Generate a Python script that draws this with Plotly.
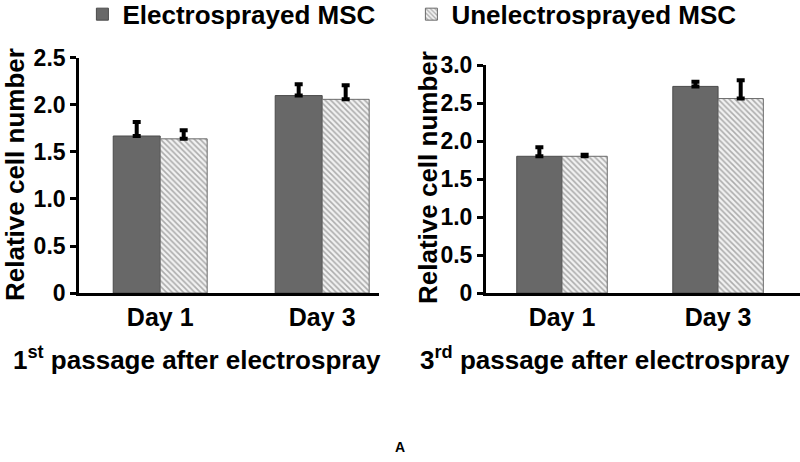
import plotly.graph_objects as go

days = ["Day 1", "Day 3"]
series_names = ["Electrosprayed MSC", "Unelectrosprayed MSC"]

# 1st passage
p1_electro = [1.67, 2.10]
p1_electro_err = [0.15, 0.12]
p1_unelectro = [1.64, 2.06]
p1_unelectro_err = [0.09, 0.15]

# 3rd passage
p3_electro = [1.80, 2.72]
p3_electro_err = [0.12, 0.06]
p3_unelectro = [1.80, 2.56]
p3_unelectro_err = [0.02, 0.24]

left_ticks = [0, 0.5, 1.0, 1.5, 2.0, 2.5]
left_ticktext = ["0", "0.5", "1.0", "1.5", "2.0", "2.5"]
right_ticks = [0, 0.5, 1.0, 1.5, 2.0, 2.5, 3.0]
right_ticktext = ["0", "0.5", "1.0", "1.5", "2.0", "2.5", "3.0"]

FONT = "Liberation Sans"
DARK = "#686868"

xpos = list(range(len(days)))

def err(arr):
    return dict(type="data", symmetric=False, array=arr, arrayminus=[0] * len(arr),
                color="black", thickness=4, width=4)

hatch = dict(color="#f2f2f2", line=dict(color="#6a6a6a", width=1),
             pattern=dict(shape="\\", fgcolor="#666666", bgcolor="#f2f2f2",
                          size=4, solidity=0.4))
solid = dict(color=DARK, line=dict(color="#4a4a4a", width=1))

fig = go.Figure()
fig.add_trace(go.Bar(x=xpos, y=p1_electro, name=series_names[0], xaxis="x", yaxis="y",
                     marker=solid, error_y=err(p1_electro_err), legendgroup="a"))
fig.add_trace(go.Bar(x=xpos, y=p1_unelectro, name=series_names[1], xaxis="x", yaxis="y",
                     marker=hatch, error_y=err(p1_unelectro_err), legendgroup="b"))
fig.add_trace(go.Bar(x=xpos, y=p3_electro, name=series_names[0], xaxis="x2", yaxis="y2",
                     marker=solid, error_y=err(p3_electro_err), showlegend=False, legendgroup="a"))
fig.add_trace(go.Bar(x=xpos, y=p3_unelectro, name=series_names[1], xaxis="x2", yaxis="y2",
                     marker=hatch, error_y=err(p3_unelectro_err), showlegend=False, legendgroup="b"))

tickfont = dict(family=FONT, size=23, color="black", weight="bold")
dayfont = dict(family=FONT, size=25, color="black", weight="bold")
bigfont = dict(family=FONT, size=26, color="black", weight="bold")

fig.update_layout(
    width=800, height=462,
    margin=dict(l=0, r=0, t=0, b=0, autoexpand=False),
    paper_bgcolor="white", plot_bgcolor="white",
    barmode="group", bargap=0.42, bargroupgap=0,
    font=dict(family=FONT, color="black"),
    xaxis=dict(domain=[0.099, 0.474], range=[-0.5, 1.352], anchor="y",
               tickvals=xpos, ticktext=days, tickfont=dayfont, ticks="",
               showline=True, linecolor="black", linewidth=3, showgrid=False,
               zeroline=False, ticklabelstandoff=0),
    yaxis=dict(domain=[0.3658, 0.8745], range=[0, 2.5], anchor="x",
               tickvals=left_ticks, ticktext=left_ticktext, tickfont=tickfont,
               ticks="outside", ticklen=6, tickwidth=2.5, tickcolor="black",
               showline=True, linecolor="black", linewidth=3, showgrid=False,
               zeroline=False),
    xaxis2=dict(domain=[0.6075, 1.0], range=[-0.487, 1.525], anchor="y2",
                tickvals=xpos, ticktext=days, tickfont=dayfont, ticks="",
                showline=True, linecolor="black", linewidth=3, showgrid=False,
                zeroline=False, ticklabelstandoff=0),
    yaxis2=dict(domain=[0.3658, 0.859], range=[0, 3.0], anchor="x2",
                tickvals=right_ticks, ticktext=right_ticktext, tickfont=tickfont,
                ticks="outside", ticklen=6, tickwidth=2.5, tickcolor="black",
                showline=True, linecolor="black", linewidth=3, showgrid=False,
                zeroline=False),
    legend=dict(orientation="h", x=0.103, xanchor="left", y=1.02, yanchor="top",
                font=bigfont, entrywidth=284, entrywidthmode="pixels",
                bgcolor="rgba(0,0,0,0)"),
    annotations=[
        dict(text="Relative cell number", x=15 / 800, y=1 - 175 / 462, xref="paper", yref="paper",
             xanchor="center", yanchor="middle",
             textangle=-90, showarrow=False, font=bigfont),
        dict(text="Relative cell number", x=428 / 800, y=1 - 178 / 462, xref="paper", yref="paper",
             xanchor="center", yanchor="middle",
             textangle=-90, showarrow=False, font=bigfont),
        dict(text="1<sup>st</sup> passage after electrospray", x=197 / 800, y=1 - 358 / 462,
             xref="paper", yref="paper", xanchor="center", yanchor="middle",
             showarrow=False, font=bigfont),
        dict(text="3<sup>rd</sup> passage after electrospray", x=605 / 800, y=1 - 358 / 462,
             xref="paper", yref="paper", xanchor="center", yanchor="middle",
             showarrow=False, font=bigfont),
        dict(text="A", x=400 / 800, y=1 - 447 / 462, xref="paper", yref="paper",
             xanchor="center", yanchor="middle",
             showarrow=False, font=dict(family=FONT, size=14, weight="bold")),
    ],
)

fig.write_html("out.html", config={"displayModeBar": False},
               post_script="document.body.style.margin='0';document.body.style.overflow='hidden';")
